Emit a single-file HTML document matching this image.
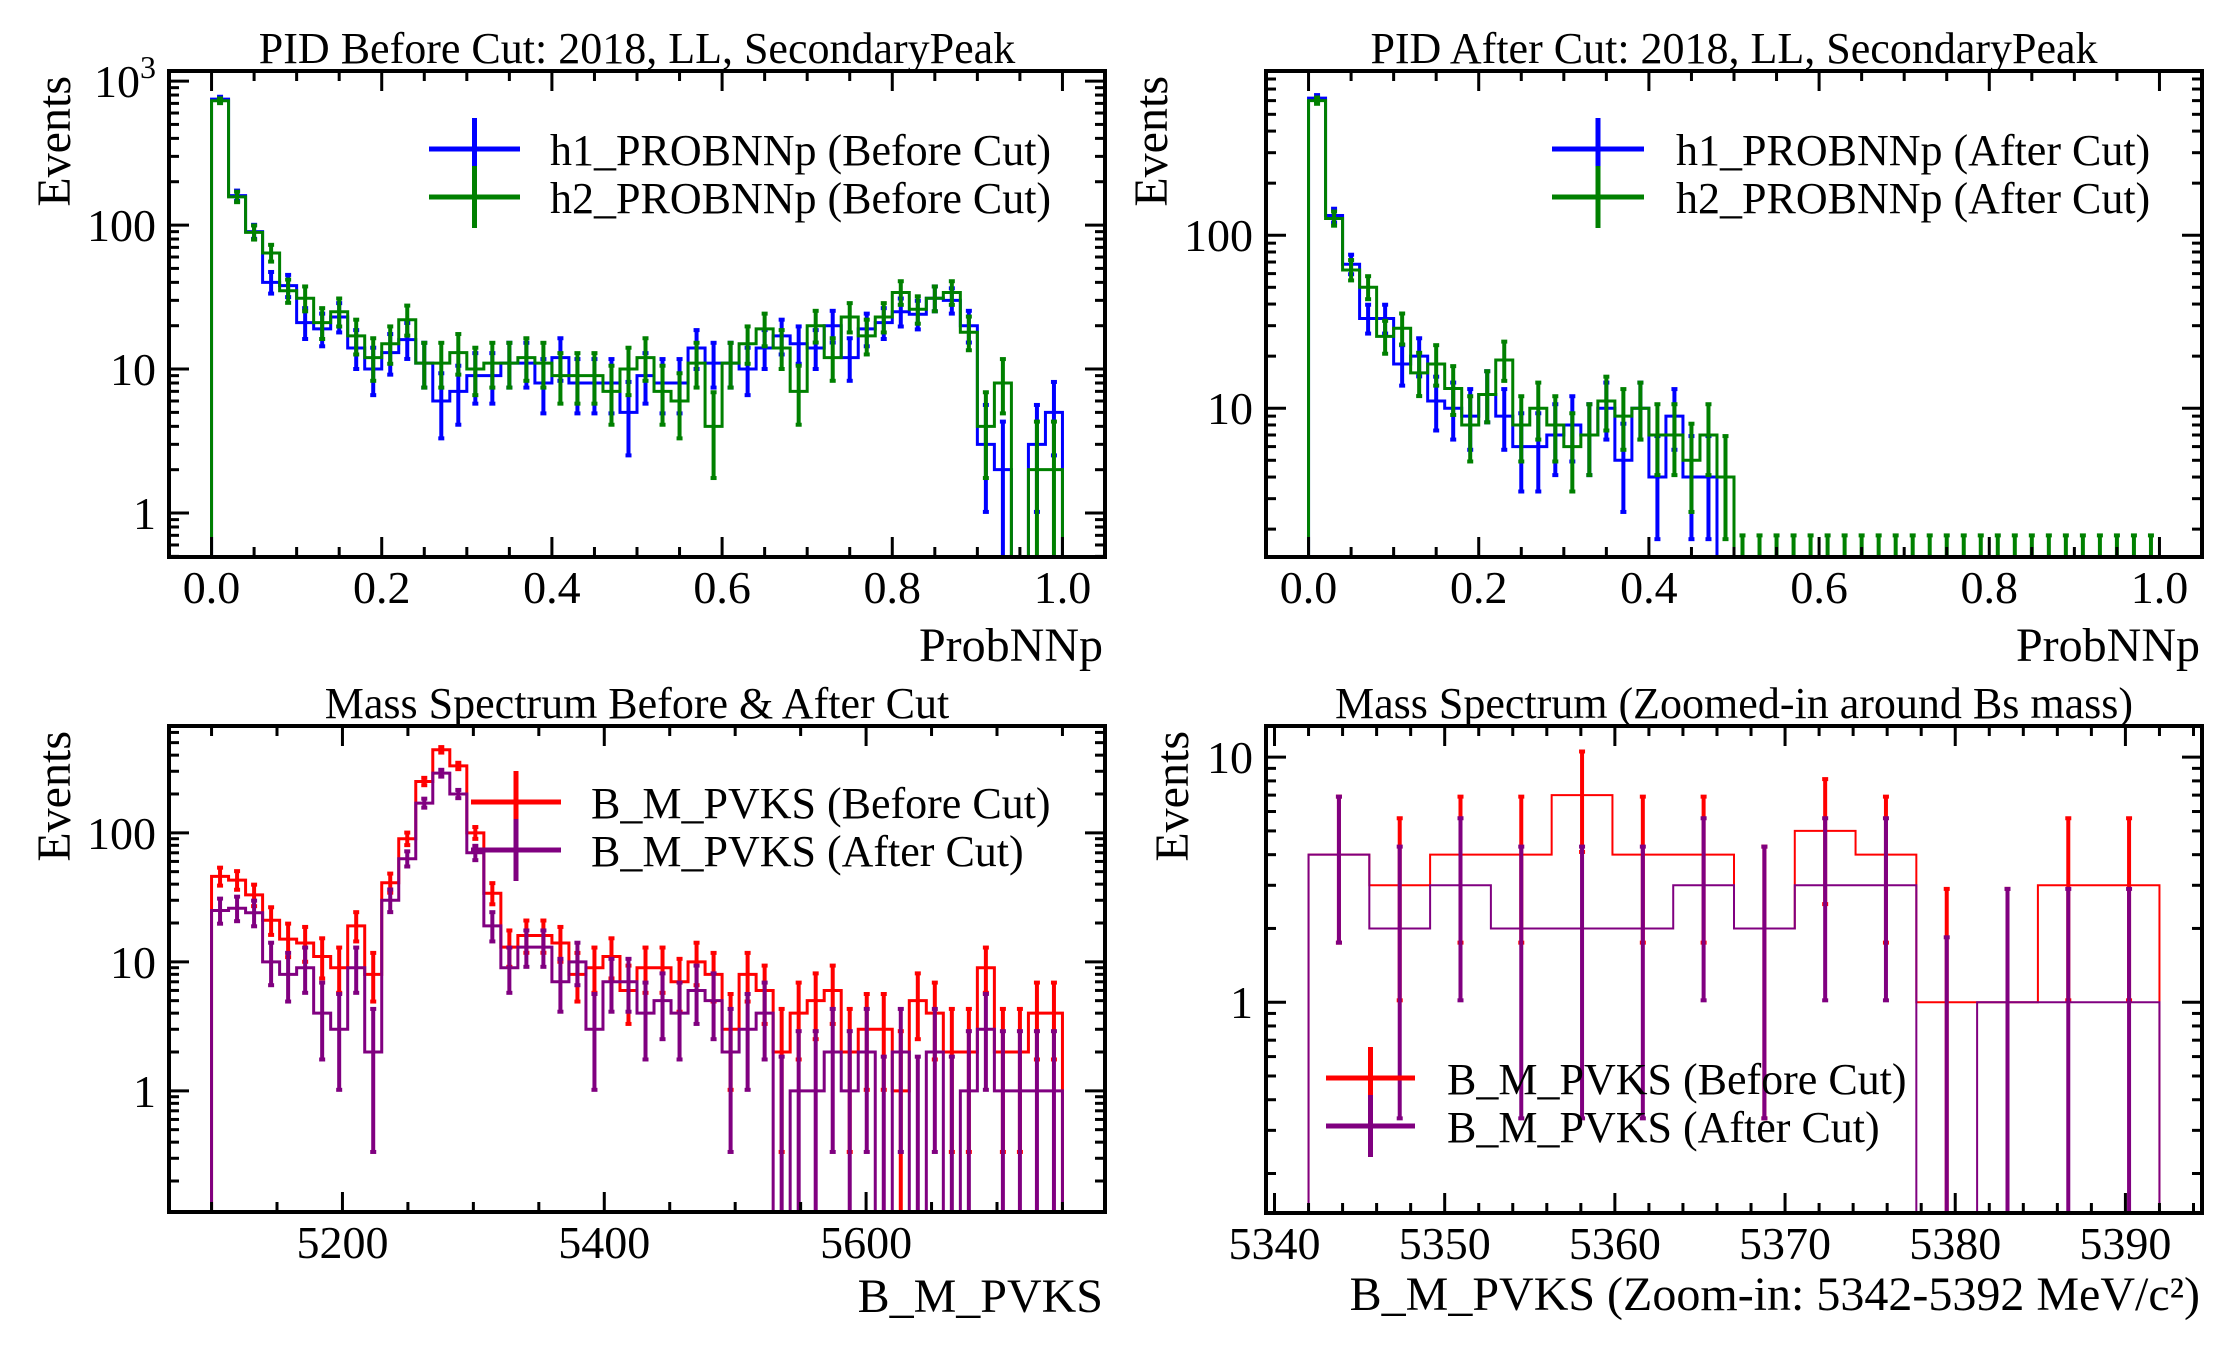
<!DOCTYPE html>
<html><head><meta charset="utf-8">
<style>
html,body{margin:0;padding:0;background:#fff;}
svg{display:block;font-family:"Liberation Serif","Times New Roman",serif;}
</style></head>
<body>
<svg id="fig" width="2231" height="1350" viewBox="0 0 2231 1350" xmlns="http://www.w3.org/2000/svg"></svg>
<script>
// ---------- data ----------
// Panel 1: PID before cut (50 bins, 0..1)
const p1H1 = [750,160,90,40,38,21,19,23,14,10,13,16,11,6,7,9,9,11,11,8,12,8,8,8,5,9,8,8,14,11,11,10,14,17,15,14,20,12,19,21,25,24,31,30,20,3,2,0,3,5];
const p1H2 = [730,157,89,64,35,31,21,25,17,12,15,22,11,11,13,10,11,11,12,11,9,9,9,7,10,12,7,6,11,4,11,15,19,14,7,20,12,23,17,23,34,26,31,34,18,4,8,0,2,2];
// Panel 2: PID after cut (50 bins)
const p2H1 = [620,130,68,33,33,18,20,11,10,9,12,9,6,6,7,8,7,10,5,10,4,9,4,4,0,0,0,0,0,0,0,0,0,0,0,0,0,0,0,0,0,0,0,0,0,0,0,0,0,0];
const p2H2 = [600,125,63,50,26,29,16,18,13,8,12,19,8,10,8,6,7,11,9,10,7,7,5,7,4,0,0,0,0,0,0,0,0,0,0,0,0,0,0,0,0,0,0,0,0,0,0,0,0,0];
// Panel 3: mass spectrum (50 bins, 5100..5750)
const p3Before = [46,43,33,21,15,14,11,9,19,8,41,90,250,440,330,100,34,13,16,16,14,8,9,11,6,9,9,7,10,8,3,8,6,2,4,5,6,2,3,3,1,5,4,2,2,9,2,2,4,4];
const p3After = [25,26,24,10,8,9,4,3,9,2,30,63,170,290,200,70,19,9,13,13,7,10,3,7,7,4,5,4,6,5,2,3,4,0,1,1,2,1,2,0,2,0,2,0,1,3,1,1,1,1];
// Panel 4: zoomed mass (14 bins, 5342..5392)
const p4Before = [4,3,4,4,7,4,4,2,5,4,1,1,3,3];
const p4After = [4,2,3,2,2,2,3,2,3,3,0,1,1,1];
// tick labels
const p1XTicks = [0,0.2,0.4,0.6,0.8,1.0];
const p1YTicks = [1,10,100,1000];
const p2YTicks = [10,100];
const p3XTicks = [5200,5400,5600];
const p3YTicks = [1,10,100];
const p4XTicks = [5340,5350,5360,5370,5380,5390];
const p4YTicks = [1,10];

const NS = "http://www.w3.org/2000/svg";
const fig = document.getElementById('fig');
function mk(tag, attrs, parent){
  const e = document.createElementNS(NS, tag);
  for (const k in attrs) e.setAttribute(k, attrs[k]);
  (parent||fig).appendChild(e);
  return e;
}
let clipId = 0;
function panel(cfg){
  const g = mk('g', {});
  
  
  const L=cfg.box[0], T=cfg.box[1], R=cfg.box[2], B=cfg.box[3];
  const sx = v => L + (v - cfg.xlim[0]) / (cfg.xlim[1]-cfg.xlim[0]) * (R-L);
  const ly0 = Math.log10(cfg.ylim[0]), ly1 = Math.log10(cfg.ylim[1]);
  const sy = v => B - (Math.log10(v) - ly0) / (ly1-ly0) * (B-T);
  const cid = 'clip'+(clipId++);
  const defs = mk('defs', {}, g);
  const cp = mk('clipPath', {id:cid}, defs);
  mk('rect', {x:L, y:T, width:R-L, height:B-T}, cp);
  const plot = mk('g', {'clip-path':'url(#'+cid+')'}, g);
  
  
  const cy = v => v<=0 ? B+20 : Math.min(B+20, sy(v));
  cfg.series.forEach(s => {
    const n = s.data.length, w = (cfg.range[1]-cfg.range[0])/n;
    let d = 'M'+sx(cfg.range[0])+','+(B+20);
    for (let i=0;i<n;i++){
      const x0 = sx(cfg.range[0]+i*w), x1 = sx(cfg.range[0]+(i+1)*w), y = cy(s.data[i]);
      d += ' L'+x0+','+y+' L'+x1+','+y;
    }
    d += ' L'+sx(cfg.range[1])+','+(B+20);
    const p = mk('path', {d:d, fill:'none', stroke:s.color, 'stroke-width':cfg.stepW}, plot);
    
    
    for (let i=0;i<n;i++){
      const v = s.data[i];
      if (v<=0 && !s.zeroErr) continue;
      const xc = sx(cfg.range[0]+(i+0.5)*w);
      const hi = v>0 ? v+Math.sqrt(v)+0.9 : 1.84;
      const lo = v>0 ? v-Math.sqrt(v)-0.25 : 0;
      const yh = sy(hi), yl = lo>0 ? sy(lo) : B+20;
      const eb = mk('g', {stroke:s.color, 'stroke-width':4}, plot);
      
      
      mk('line', {x1:xc, y1:yh, x2:xc, y2:yl}, eb);
      mk('line', {x1:xc-3, y1:yh, x2:xc+3, y2:yh}, eb);
      if (lo>0) mk('line', {x1:xc-3, y1:yl, x2:xc+3, y2:yl}, eb);
    }
  });
  // ticks
  const tk = mk('g', {stroke:'#000', 'stroke-width':3}, g);
  
  
  for (let v=cfg.xminor[0]; v<=cfg.xlim[1]+1e-9; v+=cfg.xminor[1]){
    if (v < cfg.xlim[0]) continue;
    const vv = Math.round(v*1000)/1000;
    const major = Math.abs(vv/cfg.xmajor - Math.round(vv/cfg.xmajor))<1e-6;
    const len = major?20:10, x = sx(vv);
    mk('line', {x1:x, y1:B, x2:x, y2:B-len}, tk);
    mk('line', {x1:x, y1:T, x2:x, y2:T+len}, tk);
  }
  for (let e=Math.floor(ly0); e<=Math.ceil(ly1); e++){
    for (let m=1;m<10;m++){
      const v = m*Math.pow(10,e);
      if (v<cfg.ylim[0] || v>cfg.ylim[1]) continue;
      const len = m===1?20:10, y = sy(v);
      mk('line', {x1:L, y1:y, x2:L+len, y2:y}, tk);
      mk('line', {x1:R, y1:y, x2:R-len, y2:y}, tk);
    }
  }
  const fr = mk('rect', {x:L, y:T, width:R-L, height:B-T, fill:'none', stroke:'#000', 'stroke-width':4}, g);
  
  
  // tick labels
  cfg.xticks.forEach(v => {
    const t = mk('text', {x:sx(v), y:B+46, 'font-size':46, 'text-anchor':'middle'}, g);
    t.textContent = cfg.xfmt(v);
    
    
  });
  cfg.yticks.forEach(v => {
    const t = mk('text', {x:L-13, y:sy(v)+16, 'font-size':46, 'text-anchor':'end'}, g);
    
    
    if (v===1000){ t.textContent='10'; const s=mk('tspan',{dy:-19,'font-size':32},t); s.textContent='3'; }
    else t.textContent = String(v);
  });
  const ti = mk('text', {x:(L+R)/2, y:T-8, 'font-size':44, 'text-anchor':'middle'}, g);
  ti.textContent = cfg.title;
  
  
  const xl = mk('text', {x:R-2, y:cfg.xlabelY, 'font-size':48, 'text-anchor':'end'}, g);
  xl.textContent = cfg.xlabel;
  
  
  const yl = mk('text', {x:0, y:0, 'font-size':48, 'text-anchor':'end', transform:'translate('+(cfg.ylabelX)+','+(T+5)+') rotate(-90)'}, g);
  yl.textContent = 'Events';
  
  
  // legend
  cfg.series.forEach((s,i) => {
    const y = cfg.leg.y + i*48;
    const lg = mk('g', {}, g);
    
    
    const hx = (cfg.leg.x1+cfg.leg.x2)/2;
    mk('line', {x1:cfg.leg.x1, y1:y, x2:cfg.leg.x2, y2:y, stroke:s.color, 'stroke-width':5}, lg);
    mk('line', {x1:hx, y1:y-31, x2:hx, y2:y+31, stroke:s.color, 'stroke-width':5}, lg);
    const t = mk('text', {x:cfg.leg.tx, y:y+16, 'font-size':44}, lg);
    t.textContent = s.label;
  });
}
const fmt1 = v => v.toFixed(1);
const fmt0 = v => String(v);
panel({name:'pid-before-panel', box:[169,71,1105,557], xlim:[-0.05,1.05], ylim:[0.495,1175], range:[0,1],
  xmajor:0.2, xminor:[0,0.05], xticks:p1XTicks, yticks:p1YTicks, xfmt:fmt1, stepW:3,
  title:'PID Before Cut: 2018, LL, SecondaryPeak', xlabel:'ProbNNp', xlabelY:661, ylabelX:70,
  leg:{x1:429,x2:520,tx:550,y:149},
  series:[{key:'h1',color:'#0000ff',data:p1H1,label:'h1_PROBNNp (Before Cut)'},
          {key:'h2',color:'#008000',data:p1H2,label:'h2_PROBNNp (Before Cut)'}]});
panel({name:'pid-after-panel', box:[1266,71,2202,557], xlim:[-0.05,1.05], ylim:[1.38,890], range:[0,1],
  xmajor:0.2, xminor:[0,0.05], xticks:p1XTicks, yticks:p2YTicks, xfmt:fmt1, stepW:3,
  title:'PID After Cut: 2018, LL, SecondaryPeak', xlabel:'ProbNNp', xlabelY:661, ylabelX:1167,
  leg:{x1:1552,x2:1644,tx:1676,y:149},
  series:[{key:'h1',color:'#0000ff',data:p2H1,label:'h1_PROBNNp (After Cut)'},
          {key:'h2',color:'#008000',data:p2H2,label:'h2_PROBNNp (After Cut)',zeroErr:true}]});
panel({name:'mass-panel', box:[169,726,1105,1212], xlim:[5067.5,5782.5], ylim:[0.115,673], range:[5100,5750],
  xmajor:200, xminor:[5050,50], xticks:p3XTicks, yticks:p3YTicks, xfmt:fmt0, stepW:3,
  title:'Mass Spectrum Before & After Cut', xlabel:'B_M_PVKS', xlabelY:1312, ylabelX:70,
  leg:{x1:471,x2:561,tx:591,y:802},
  series:[{key:'before',color:'#ff0000',data:p3Before,label:'B_M_PVKS (Before Cut)'},
          {key:'after',color:'#800080',data:p3After,label:'B_M_PVKS (After Cut)',zeroErr:true}]});
panel({name:'mass-zoom-panel', box:[1266,726,2202,1213], xlim:[5339.5,5394.5], ylim:[0.138,13.4], range:[5342,5392],
  xmajor:10, xminor:[5340,2], xticks:p4XTicks, yticks:p4YTicks, xfmt:fmt0, stepW:2,
  title:'Mass Spectrum (Zoomed-in around Bs mass)', xlabel:'B_M_PVKS (Zoom-in: 5342-5392 MeV/c²)', xlabelY:1310, ylabelX:1188,
  leg:{x1:1326,x2:1415,tx:1447,y:1078},
  series:[{key:'before',color:'#ff0000',data:p4Before,label:'B_M_PVKS (Before Cut)'},
          {key:'after',color:'#800080',data:p4After,label:'B_M_PVKS (After Cut)',zeroErr:true}]});
</script>
</body></html>
